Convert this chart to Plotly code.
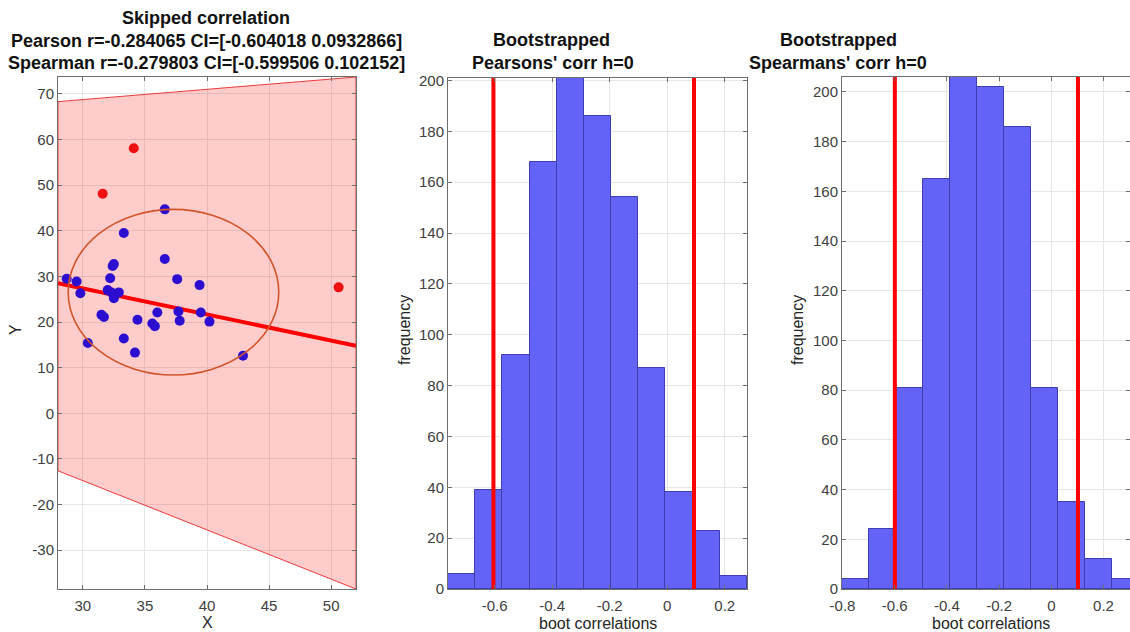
import plotly.graph_objects as go

# ---- data -------------------------------------------------------------
# retained observations
x_in = [28.7, 29.5, 29.8, 30.4, 31.5, 31.7, 32.2, 32.4, 32.5, 32.0, 32.3, 32.5,
        32.9, 33.3, 33.3, 34.2, 34.4, 35.6, 35.8, 36.0, 36.6, 36.6, 37.6, 37.7,
        37.8, 39.4, 39.5, 40.2, 42.9]
y_in = [29.5, 28.9, 26.3, 15.4, 21.6, 21.1, 29.6, 32.3, 32.7, 27.0, 26.5, 25.2,
        26.5, 39.5, 16.4, 13.3, 20.5, 19.7, 19.1, 22.1, 44.7, 33.8, 29.4, 22.3,
        20.3, 28.1, 22.1, 20.1, 12.6]
# flagged outliers
x_out = [31.6, 34.1, 50.6]
y_out = [48.1, 58.1, 27.6]

# robust fit and its confidence band at the x-limits
fit_x = [28.0, 52.0]
fit_y = [28.5, 14.8]
band_upper = [68.3, 73.7]
band_lower = [-12.6, -38.5]

# bivariate spread ellipse (centre and semi-axes)
ellipse_center = (37.3, 26.55)
ellipse_radii = (8.48, 18.15)

# bootstrap histograms
pearson_edges = [-0.762, -0.6675, -0.573, -0.4785, -0.384, -0.2895, -0.195,
                 -0.1005, -0.006, 0.0885, 0.183, 0.2775]
pearson_counts = [6, 39, 92, 168, 202, 186, 154, 87, 38, 23, 5]
pearson_ci = [-0.604018, 0.0932866]

spearman_edges = [-0.802, -0.6986, -0.5952, -0.4918, -0.3884, -0.285, -0.1816,
                  -0.0782, 0.0252, 0.1286, 0.232, 0.3354]
spearman_counts = [4, 24, 81, 165, 206, 202, 186, 81, 35, 12, 4]
spearman_ci = [-0.599506, 0.102152]

title_lines = ["Skipped correlation",
               "Pearson r=-0.284065 CI=[-0.604018 0.0932866]",
               "Spearman r=-0.279803 CI=[-0.599506 0.102152]"]

scatter_xticks = [30, 35, 40, 45, 50]
scatter_yticks = [-30, -20, -10, 0, 10, 20, 30, 40, 50, 60, 70]
corr_ticks = [-0.8, -0.6, -0.4, -0.2, 0, 0.2]
freq_ticks = list(range(0, 201, 20))

# ---- layout helpers -----------------------------------------------------
W, H = 1130, 632
FONT = "Liberation Sans, Arial, sans-serif"


def px(x):
    return x / W


def py(y):
    return 1 - y / H


def tick_text(vals):
    # plain hyphen-minus for negative values
    return [f"{v:g}" for v in vals]


fig = go.Figure()

# panel 1: scatter with robust fit
fig.add_trace(go.Scatter(
    x=[fit_x[0], fit_x[1], fit_x[1], fit_x[0], fit_x[0]],
    y=[band_upper[0], band_upper[1], band_lower[1], band_lower[0], band_upper[0]],
    mode="lines", fill="toself", fillcolor="rgba(255,0,0,0.2)",
    line=dict(color="rgba(230,40,40,0.9)", width=1),
    xaxis="x", yaxis="y", showlegend=False, hoverinfo="skip"))
fig.add_trace(go.Scatter(
    x=fit_x, y=fit_y, mode="lines", line=dict(color="#ff0000", width=4),
    xaxis="x", yaxis="y", showlegend=False))
fig.add_trace(go.Scatter(
    x=x_in, y=y_in, mode="markers",
    marker=dict(color="#2c0ed0", size=10, line=dict(width=0)),
    xaxis="x", yaxis="y", showlegend=False))
fig.add_trace(go.Scatter(
    x=x_out, y=y_out, mode="markers",
    marker=dict(color="#f01010", size=10, line=dict(width=0)),
    xaxis="x", yaxis="y", showlegend=False))

cx, cy = ellipse_center
rx, ry = ellipse_radii
fig.add_shape(type="circle", xref="x", yref="y",
              x0=cx - rx, x1=cx + rx, y0=cy - ry, y1=cy + ry,
              line=dict(color="#d2552a", width=1.6), layer="above")


def add_hist(edges, counts, ci, xa, ya, ytop):
    centers = [(a + b) / 2 for a, b in zip(edges[:-1], edges[1:])]
    widths = [b - a for a, b in zip(edges[:-1], edges[1:])]
    fig.add_trace(go.Bar(
        x=centers, y=counts, width=widths,
        marker=dict(color="#6363f7", line=dict(color="#3e3eb0", width=1)),
        xaxis=xa, yaxis=ya, showlegend=False))
    for v in ci:
        fig.add_trace(go.Scatter(
            x=[v, v], y=[0, ytop], mode="lines",
            line=dict(color="#ff0000", width=4),
            xaxis=xa, yaxis=ya, showlegend=False))


add_hist(pearson_edges, pearson_counts, pearson_ci, "x2", "y2", 201)
add_hist(spearman_edges, spearman_counts, spearman_ci, "x3", "y3", 206)

axis_common = dict(
    showgrid=True, gridcolor="#e6e6e6", gridwidth=1,
    showline=True, linecolor="#6e6e6e", linewidth=1, mirror="ticks",
    ticks="inside", ticklen=4, tickcolor="#6e6e6e",
    tickfont=dict(family=FONT, size=15, color="#404040"),
    zeroline=False, automargin=False,
)
xaxis_extra = dict(ticklabelstandoff=3)

ybot, ytop_ = py(589), py(77)

fig.update_layout(
    width=W, height=H,
    margin=dict(l=0, r=0, t=0, b=0),
    paper_bgcolor="white", plot_bgcolor="white",
    bargap=0,
    xaxis=dict(domain=[px(58), px(356)], range=[28, 52],
               tickvals=scatter_xticks, ticktext=tick_text(scatter_xticks),
               anchor="y", **axis_common, **xaxis_extra),
    yaxis=dict(domain=[ybot, ytop_], range=[-38.5, 73.7],
               tickvals=scatter_yticks, ticktext=tick_text(scatter_yticks),
               anchor="x", **axis_common),
    xaxis2=dict(domain=[px(448), px(747)], range=[-0.762, 0.2775],
                tickvals=corr_ticks, ticktext=tick_text(corr_ticks),
                anchor="y2", **axis_common, **xaxis_extra),
    yaxis2=dict(domain=[ybot, py(78)], range=[0, 201],
                tickvals=freq_ticks, ticktext=tick_text(freq_ticks),
                anchor="x2", **axis_common),
    xaxis3=dict(domain=[px(842), 1.0], range=[-0.802, 0.3015],
                tickvals=corr_ticks, ticktext=tick_text(corr_ticks),
                anchor="y3", **axis_common, **xaxis_extra),
    yaxis3=dict(domain=[ybot, ytop_], range=[0, 206],
                tickvals=freq_ticks, ticktext=tick_text(freq_ticks),
                anchor="x3", **axis_common),
)

annotations = []


def label(text, x, y, size, bold=False, angle=0, color="#262626"):
    annotations.append(dict(
        text=f"<b>{text}</b>" if bold else text,
        x=px(x), y=py(y), xref="paper", yref="paper",
        xanchor="center", yanchor="middle", showarrow=False, textangle=angle,
        font=dict(family=FONT, size=size, color=color)))


# titles
for line, yy in zip(title_lines, [18, 41, 63]):
    label(line, 206, yy, 18, bold=True, color="#111111")
label("Bootstrapped", 551, 40, 18, bold=True, color="#111111")
label("Pearsons' corr h=0", 553, 63, 18, bold=True, color="#111111")
label("Bootstrapped", 838, 40, 18, bold=True, color="#111111")
label("Spearmans' corr h=0", 838, 63, 18, bold=True, color="#111111")

# axis labels
label("X", 207, 622, 16)
label("Y", 15, 330, 16, angle=-90)
label("frequency", 404, 330, 16, angle=-90)
label("frequency", 797, 330, 16, angle=-90)
label("boot correlations", 598, 623, 16)
label("boot correlations", 991, 623, 16)

fig.update_layout(annotations=annotations)

fig.write_html("out.html")
